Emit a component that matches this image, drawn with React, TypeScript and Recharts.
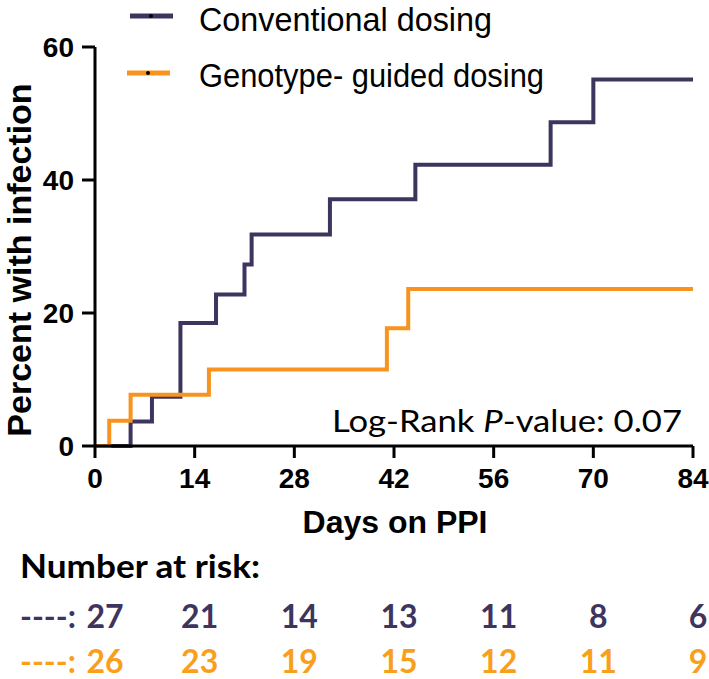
import { LineChart, Line, XAxis, YAxis } from "recharts";

// Kaplan-Meier style cumulative infection curves (step values)
const convDays = [0, 5, 8, 12, 17, 21, 22, 33, 45, 64, 70, 84];
const convPct = [0, 3.7, 7.4, 18.5, 22.8, 27.3, 31.8, 37.1, 42.3, 48.7, 55.1, 55.1];
const genoDays = [0, 2, 5, 16, 41, 44, 84];
const genoPct = [0, 3.8, 7.7, 11.5, 17.7, 23.6, 23.6];

const xTicks = [0, 14, 28, 42, 56, 70, 84];
const yTicks = [0, 20, 40, 60];

const riskConv = [27, 21, 14, 13, 11, 8, 6];
const riskGeno = [26, 23, 19, 15, 12, 11, 9];

const PURPLE = "#3e355f";
const ORANGE = "#f7931e";
const RISK_ORANGE = "#f9a01b";

const W = 709;
const H = 679;
const PLOT_LEFT = 95;
const PLOT_RIGHT = 693;

const convData = convDays.map((day, i) => ({ day, pct: convPct[i] }));
const genoData = genoDays.map((day, i) => ({ day, pct: genoPct[i] }));

const dayToX = (d: number) => PLOT_LEFT + (d / 84) * (PLOT_RIGHT - PLOT_LEFT);

const tickStyle = {
  fill: "#000",
  fontSize: 28,
  fontWeight: 700,
  fontFamily: "'Liberation Sans', Arial, sans-serif",
};

const legendFont = "'Liberation Sans Narrow', 'Liberation Sans', Arial, sans-serif";

export default function App() {
  return (
    <div style={{ position: "absolute", left: 0, top: 0, width: W, height: H, background: "#fff" }}>
      <LineChart width={W} height={H} margin={{ top: 47, right: 16, bottom: 173, left: 0 }}>
        <XAxis
          type="number"
          dataKey="day"
          domain={[0, 84]}
          ticks={xTicks}
          allowDataOverflow
          height={60}
          tick={tickStyle}
          tickSize={12}
          tickMargin={10}
          axisLine={{ stroke: "#000", strokeWidth: 3 }}
          tickLine={{ stroke: "#000", strokeWidth: 3 }}
        />
        <YAxis
          type="number"
          domain={[0, 60]}
          ticks={yTicks}
          width={95}
          tick={tickStyle}
          tickSize={13}
          tickMargin={8}
          axisLine={{ stroke: "#000", strokeWidth: 3 }}
          tickLine={{ stroke: "#000", strokeWidth: 3 }}
        />
        <Line
          data={convData}
          dataKey="pct"
          type="stepAfter"
          stroke={PURPLE}
          strokeWidth={4}
          dot={false}
          isAnimationActive={false}
        />
        <Line
          data={genoData}
          dataKey="pct"
          type="stepAfter"
          stroke={ORANGE}
          strokeWidth={4}
          dot={false}
          isAnimationActive={false}
        />
      </LineChart>

      <svg
        width={W}
        height={H}
        style={{ position: "absolute", left: 0, top: 0, pointerEvents: "none" }}
      >
        {/* legend */}
        <line x1={130} x2={173} y1={16} y2={16} stroke={PURPLE} strokeWidth={5} />
        <circle cx={151} cy={16} r={2} fill="#000" />
        <text x={199} y={31} fontSize={34} fontFamily={legendFont} textLength={293} lengthAdjust="spacingAndGlyphs">
          Conventional dosing
        </text>
        <line x1={127} x2={170} y1={73} y2={73} stroke={ORANGE} strokeWidth={5} />
        <circle cx={148} cy={73} r={2} fill="#000" />
        <text x={199} y={87} fontSize={34} fontFamily={legendFont} textLength={345} lengthAdjust="spacingAndGlyphs">
          Genotype- guided dosing
        </text>

        {/* axis titles */}
        <text
          x={31}
          y={260}
          transform="rotate(-90 31 260)"
          textAnchor="middle"
          fontSize={34}
          fontWeight={700}
          fontFamily="'Liberation Sans', Arial, sans-serif"
        >
          Percent with infection
        </text>
        <text
          x={395}
          y={533}
          textAnchor="middle"
          fontSize={32}
          fontWeight={700}
          fontFamily="'Liberation Sans', Arial, sans-serif"
        >
          Days on PPI
        </text>

        {/* log-rank annotation */}
        <text
          x={332}
          y={432}
          fontSize={30}
          fontFamily="Lato, 'Open Sans', sans-serif"
          textLength={350}
          lengthAdjust="spacingAndGlyphs"
        >
          Log-Rank <tspan fontStyle="italic">P</tspan>-value: 0.07
        </text>

        {/* number at risk table */}
        <text
          x={20}
          y={578}
          fontSize={32}
          fontWeight={700}
          fontFamily="Lato, sans-serif"
          textLength={240}
          lengthAdjust="spacingAndGlyphs"
        >
          Number at risk:
        </text>
        <text x={20} y={628} fontSize={32} fontWeight={700} fontFamily="Lato, sans-serif" fill={PURPLE}>
          ----:
        </text>
        <text x={20} y={673} fontSize={32} fontWeight={700} fontFamily="Lato, sans-serif" fill={RISK_ORANGE}>
          ----:
        </text>
        {xTicks.map((d, i) => (
          <g key={d}>
            <text
              x={i === 0 ? 105 : dayToX(d) + 5}
              y={628}
              textAnchor="middle"
              fontSize={32}
              fontWeight={700}
              fontFamily="Lato, sans-serif"
              fill={PURPLE}
            >
              {riskConv[i]}
            </text>
            <text
              x={i === 0 ? 105 : dayToX(d) + 5}
              y={673}
              textAnchor="middle"
              fontSize={32}
              fontWeight={700}
              fontFamily="Lato, sans-serif"
              fill={RISK_ORANGE}
            >
              {riskGeno[i]}
            </text>
          </g>
        ))}
      </svg>
    </div>
  );
}
